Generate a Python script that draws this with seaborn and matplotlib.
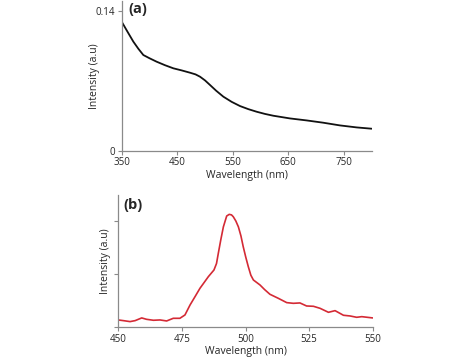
import numpy as np
import pandas as pd
import matplotlib
matplotlib.use("Agg")
import matplotlib.pyplot as plt
import seaborn as sns

# --- datos --- #
wl_a = [350, 360, 371, 380, 389, 400, 413, 428, 443, 458, 473, 483, 491, 500, 509, 520, 533,
        548, 563, 578, 593, 608, 623, 653, 683, 713, 743, 773, 800]
int_a = [0.1296, 0.1200, 0.1096, 0.1025, 0.0962, 0.0930, 0.0895, 0.0860, 0.0829, 0.0808, 0.0785,
         0.0768, 0.0745, 0.0708, 0.0662, 0.0605, 0.0545, 0.0493, 0.0451, 0.0420, 0.0394, 0.0372,
         0.0354, 0.0327, 0.0307, 0.0284, 0.0257, 0.0237, 0.0224]

wl_b = [450, 452, 454.6, 456.6, 459.2, 461.1, 463.8, 466.4, 469, 471.6, 474.2, 476.2, 478.2,
        480.2, 482.1, 484, 485.4, 487.6, 488.6, 489.3, 490.3, 491.3, 492.6, 493.6, 494.5,
        495.2, 496.2, 497.2, 498.2, 499.1, 500.1, 501.1, 502.1, 503.1, 505.7, 507.5, 509.6,
        512.9, 516.2, 518.8, 521.4, 524, 526.7, 529.3, 532.6, 535.2, 538.5, 541.1, 543.7,
        545.7, 550]
int_b = [0.138, 0.125, 0.107, 0.125, 0.176, 0.15, 0.132, 0.138, 0.119, 0.169, 0.169, 0.232, 0.42,
         0.58, 0.734, 0.86, 0.953, 1.078, 1.2, 1.39, 1.65, 1.89, 2.094, 2.125, 2.115,
         2.08, 2.0, 1.89, 1.72, 1.517, 1.32, 1.14, 0.98, 0.89, 0.796, 0.71, 0.621,
         0.545, 0.464, 0.451, 0.458, 0.401, 0.395, 0.357, 0.282, 0.313, 0.226, 0.213, 0.188,
         0.2, 0.176]

ticks_a_x = [350, 450, 550, 650, 750]
ticks_a_y = [0, 0.14]
ticks_b_x = [450, 475, 500, 525, 550]
ticks_b_y = [0, 1, 2]

sns.set_style("white")
plt.rcParams['font.family'] = ['Open Sans', 'DejaVu Sans']

df_a = pd.DataFrame({'wl': wl_a, 'intensidad': int_a})
df_b = pd.DataFrame({'wl': wl_b, 'intensidad': int_b})

fig = plt.figure(figsize=(4.74, 3.58), dpi=100)
ax_a = fig.add_axes([0.2567, 0.578, 0.5274, 0.42])
ax_b = fig.add_axes([0.2496, 0.0858, 0.5367, 0.3696])

gris = '#8a8a8a'


def estilo(ax):
    for s in ['top', 'right']:
        ax.spines[s].set_visible(False)
    for s in ['left', 'bottom']:
        ax.spines[s].set_color(gris)
        ax.spines[s].set_linewidth(0.9)
    ax.tick_params(axis='both', which='major', length=3, width=0.8, color=gris,
                   labelsize=7, pad=1.5, bottom=True, left=True)
    ax.set_xlabel('Wavelength (nm)', fontsize=7.5, labelpad=1)
    ax.set_ylabel('Intensity (a.u)', fontsize=7.5)


# (a)
sns.lineplot(data=df_a, x='wl', y='intensidad', ax=ax_a, color='#111111', linewidth=1.3)
ax_a.set_xlim(350, 800)
ax_a.set_ylim(0, 0.1506)
ax_a.set_xticks(ticks_a_x)
ax_a.set_yticks(ticks_a_y)
ax_a.set_yticklabels(['0', '0.14'])
estilo(ax_a)
ax_a.yaxis.set_label_coords(-0.088, 0.5)
ax_a.text(0.025, 0.99, '(a)', transform=ax_a.transAxes, fontsize=10.5, fontweight='bold',
          ha='left', va='top')

# (b)
sns.lineplot(data=df_b, x='wl', y='intensidad', ax=ax_b, color='#d42a35', linewidth=1.2)
ax_b.set_xlim(450, 550)
ax_b.set_ylim(0, 2.49)
ax_b.set_xticks(ticks_b_x)
ax_b.set_yticks(ticks_b_y)
ax_b.set_yticklabels([])
estilo(ax_b)
ax_b.yaxis.set_label_coords(-0.03, 0.5)
ax_b.text(0.02, 0.98, '(b)', transform=ax_b.transAxes, fontsize=10.5, fontweight='bold',
          ha='left', va='top')

fig.savefig('out.png', dpi=100)
